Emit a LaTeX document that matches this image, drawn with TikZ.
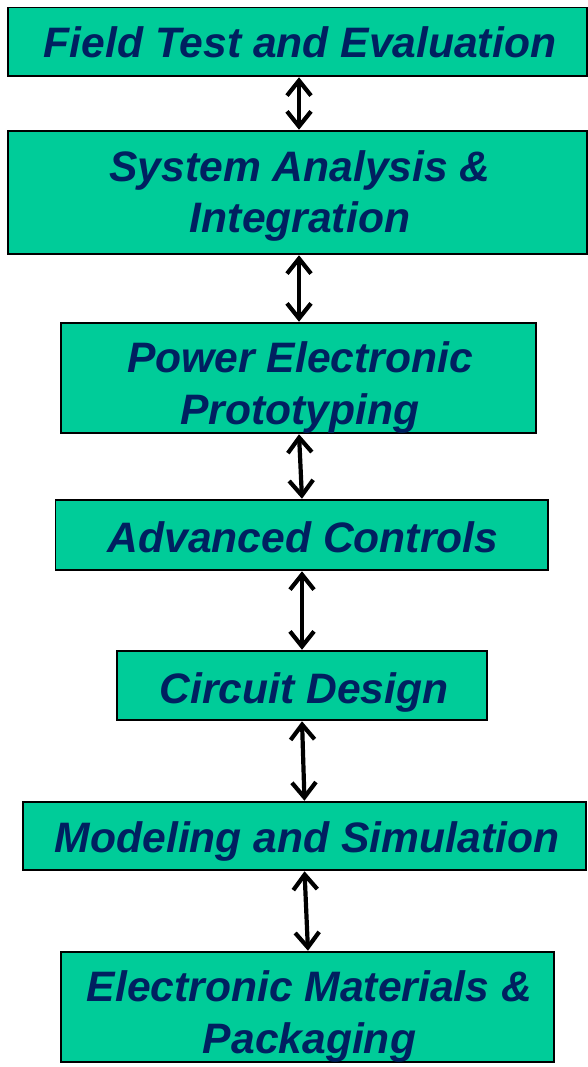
\documentclass[tikz,border=0pt]{standalone}
\usepackage{fontspec}
\setmainfont{Liberation Sans}
\usetikzlibrary{arrows.meta}
\definecolor{boxfill}{HTML}{00CC99}
\definecolor{navy}{HTML}{002060}
\tikzset{
  box/.style={draw=black, line width=1.5pt, fill=boxfill, rectangle, inner sep=0pt},
  lbl/.style={text=navy, inner sep=0pt, anchor=base, align=center,
    font=\fontsize{42.6}{51.5}\selectfont\bfseries\itshape},
  dbl/.style={line width=4.2pt, {Straight Barb[length=15pt,width=24pt]}-{Straight Barb[length=15pt,width=24pt]}, shorten <=0.5pt, shorten >=0.5pt}
}
\begin{document}
\begin{tikzpicture}[x=1pt,y=-1pt]
\useasboundingbox (0,0) rectangle (588,1067);
\node[box, minimum width=579pt, minimum height=68.5pt] (b1) at (297.5,41.75) {};
\node[box, minimum width=579pt, minimum height=123pt] (b2) at (297.5,192.5) {};
\node[box, minimum width=475pt, minimum height=110pt] (b3) at (298.5,378) {};
\node[box, minimum width=492.5pt, minimum height=70pt] (b4) at (301.75,535) {};
\node[box, minimum width=370pt, minimum height=69pt] (b5) at (302,685.5) {};
\node[box, minimum width=563pt, minimum height=68pt] (b6) at (304.5,836) {};
\node[box, minimum width=493pt, minimum height=110pt] (b7) at (307.5,1007) {};
\node[lbl] (t1) at (300,58) {Field Test and Evaluation};
\node[lbl] (t2) at (300,233) {System Analysis \&\\Integration};
\node[lbl] (t3) at (300,424) {Power Electronic\\Prototyping};
\node[lbl] (t4) at (303,552) {Advanced Controls};
\node[lbl] (t5) at (304,703) {Circuit Design};
\node[lbl] (t6) at (307,852) {Modeling and Simulation};
\node[lbl] (t7) at (309.5,1053) {Electronic Materials \&\\Packaging};
\draw[dbl] ([xshift=1.5pt]b1.south) -- ([xshift=1.5pt]b2.north);
\draw[dbl] ([xshift=1.5pt]b2.south) -- ([xshift=0.5pt]b3.north);
\draw[dbl] ([xshift=0.5pt]b3.south) -- ([xshift=0.25pt]b4.north);
\draw[dbl] ([xshift=0.25pt]b4.south) -- (b5.north);
\draw[dbl] (b5.south) -- (b6.north);
\draw[dbl] (b6.south) -- ([xshift=0.5pt]b7.north);
\end{tikzpicture}
\end{document}
